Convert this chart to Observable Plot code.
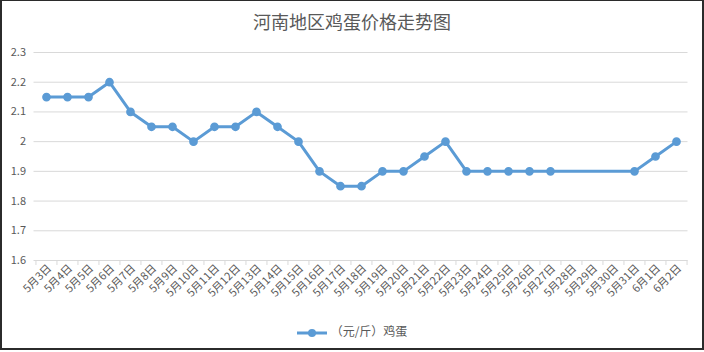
<!DOCTYPE html>
<html>
<head>
<meta charset="utf-8">
<script src="https://cdn.jsdelivr.net/npm/d3@7"></script>
<script src="https://cdn.jsdelivr.net/npm/@observablehq/plot@0.6"></script>
<style>
  html, body { margin: 0; padding: 0; background: #fff; }
  body { width: 704px; height: 352px; overflow: hidden; font-family: "Noto Sans CJK SC", "Microsoft YaHei", sans-serif; }
  #frame { position: absolute; left: 0; top: 0; width: 700px; height: 347px; border-left: 2px solid #2b2b2b; border-top: 1px solid #2b2b2b; border-right: 2px solid #2b2b2b; border-bottom: 2px solid #2b2b2b; }
  #title { position: absolute; left: 0; top: 9px; width: 704px; text-align: center; font-size: 18px; color: #595959; line-height: 24px; }
  #chart { position: absolute; left: 0; top: 0; }
  #legend { position: absolute; left: 0; top: 322px; width: 704px; text-align: center; font-size: 12px; color: #595959; line-height: 18px; }
  #legend svg { vertical-align: middle; margin-right: 4px; }
</style>
</head>
<body>
<div id="frame"></div>
<div id="chart"></div>
<div id="title">河南地区鸡蛋价格走势图</div>
<div id="legend"></div>
<script>
const categories = ["5月3日","5月4日","5月5日","5月6日","5月7日","5月8日","5月9日","5月10日","5月11日","5月12日","5月13日","5月14日","5月15日","5月16日","5月17日","5月18日","5月19日","5月20日","5月21日","5月22日","5月23日","5月24日","5月25日","5月26日","5月27日","5月28日","5月29日","5月30日","5月31日","6月1日","6月2日"];
const prices = [2.15,2.15,2.15,2.2,2.1,2.05,2.05,2.0,2.05,2.05,2.1,2.05,2.0,1.9,1.85,1.85,1.9,1.9,1.95,2.0,1.9,1.9,1.9,1.9,1.9,null,null,null,1.9,1.95,2.0];
const yTicks = [1.6,1.7,1.8,1.9,2.0,2.1,2.2,2.3];
const seriesName = "（元/斤）鸡蛋";

const data = categories.map((c, i) => ({date: c, price: prices[i]})).filter(d => d.price != null);

const W = 704, H = 352, ml = 33.5, mr = 16.5, mt = 52, mb = 92;
const step = (W - ml - mr) / categories.length;
const color = "#5b9bd5";
const gray = "#595959";

const chart = Plot.plot({
  width: W,
  height: H,
  marginLeft: ml,
  marginRight: mr,
  marginTop: mt,
  marginBottom: mb,
  style: {fontFamily: '"Noto Sans CJK SC", sans-serif', background: "transparent", overflow: "visible"},
  x: {type: "point", domain: categories, padding: 0.5, axis: null, label: null},
  y: {domain: [1.6, 2.3], axis: null, label: null},
  marks: [
    Plot.ruleY(yTicks, {stroke: "#d9d9d9", strokeWidth: 1}),
    Plot.axisY(yTicks, {tickSize: 0, tickPadding: 8, fontSize: 11, color: gray, tickFormat: d3.format("~g"), label: null}),
    Plot.axisX(categories, {tickSize: 5, text: null, stroke: "#d9d9d9", dx: -step / 2, label: null}),
    Plot.axisX([categories[categories.length - 1]], {tickSize: 5, text: null, stroke: "#d9d9d9", dx: step / 2, label: null}),
    Plot.axisX(categories, {tickSize: 0, tickPadding: 6, tickRotate: -45, fontSize: 11, color: gray, dx: 3, label: null}),
    Plot.line(data, {x: "date", y: "price", stroke: color, strokeWidth: 3, strokeLinejoin: "round"}),
    Plot.dot(data, {x: "date", y: "price", r: 3.6, fill: color, stroke: color})
  ]
});
document.getElementById("chart").appendChild(chart);

document.getElementById("legend").innerHTML =
  `<svg width="30" height="10"><line x1="0" y1="5" x2="30" y2="5" stroke="${color}" stroke-width="3"/><circle cx="15" cy="5" r="4" fill="${color}"/></svg><span>${seriesName}</span>`;
</script>
</body>
</html>
